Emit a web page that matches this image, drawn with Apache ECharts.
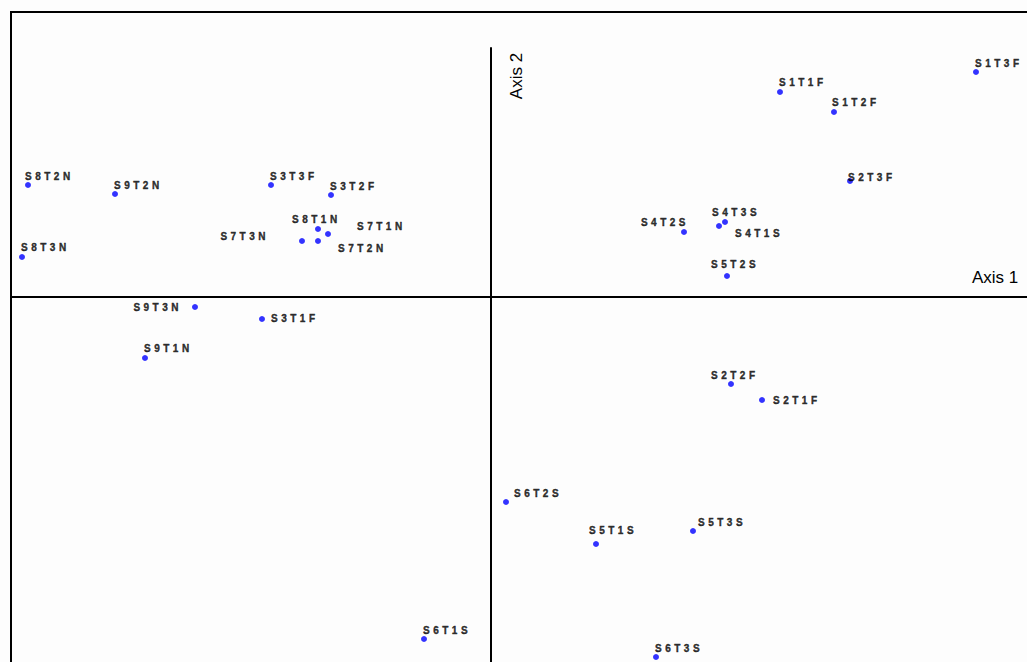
<!DOCTYPE html>
<html>
<head>
<meta charset="utf-8">
<script src="https://cdn.jsdelivr.net/npm/echarts@6/dist/echarts.min.js"></script>
<style>
html,body{margin:0;padding:0;background:#fdfdfd;overflow:hidden}
#chart{width:1027px;height:662px}
#chart svg text[style*="bold"], #chart svg text[font-weight="bold"]{letter-spacing:3.5px}
</style>
</head>
<body>
<div id="chart"></div>
<script>
// Ordination scores
const names = ['S1T1F','S1T2F','S1T3F','S2T3F','S4T2S','S4T3S','S4T1S','S5T2S',
  'S8T2N','S9T2N','S3T3F','S3T2F','S8T1N','S7T1N','S7T3N','S7T2N','S8T3N',
  'S9T3N','S3T1F','S9T1N','S2T2F','S2T1F','S6T2S','S5T1S','S5T3S','S6T1S','S6T3S'];
const axis1 = [2.89, 3.43, 4.85, 3.59, 1.93, 2.34, 2.28, 2.36,
  -4.63, -3.76, -2.20, -1.60, -1.73, -1.63, -1.89, -1.73, -4.69,
  -2.96, -2.29, -3.46, 2.40, 2.71, 0.15, 1.05, 2.02, -0.67, 1.65];
const axis2 = [2.05, 1.85, 2.25, 1.16, 0.65, 0.75, 0.71, 0.21,
  1.12, 1.03, 1.12, 1.02, 0.68, 0.63, 0.56, 0.56, 0.40,
  -0.10, -0.22, -0.61, -0.87, -1.03, -2.05, -2.47, -2.34, -3.42, -3.60];
const axisTitles = ['Axis 1', 'Axis 2'];

// label placement (align, dx, dy from the dot centre) — styling only
const labelPlace = {
  S1T1F:['left',-1,-10], S1T2F:['left',-2,-10], S1T3F:['left',-1,-9], S2T3F:['left',-2,-4],
  S4T2S:['right',5,-10], S4T3S:['left',-13,-10], S4T1S:['left',16,7], S5T2S:['left',-16,-12],
  S8T2N:['left',-3,-9], S9T2N:['left',-1,-9], S3T3F:['left',-1,-9], S3T2F:['left',-1,-9],
  S8T1N:['left',-26,-10], S7T1N:['left',29,-8], S7T3N:['right',-33,-5], S7T2N:['left',20,7],
  S8T3N:['left',-1,-10], S9T3N:['right',-13,0], S3T1F:['left',9,-1], S9T1N:['left',-1,-10],
  S2T2F:['left',-20,-9], S2T1F:['left',11,0], S6T2S:['left',8,-9], S5T1S:['left',-7,-14],
  S5T3S:['left',5,-9], S6T1S:['left',-1,-9], S6T3S:['left',-1,-9]
};
const SYM = 6;

const data = names.map((n, i) => {
  const p = labelPlace[n] || ['left', 0, -9];
  return {
    name: n,
    value: [axis1[i], axis2[i]],
    label: { align: p[0], position: [SYM / 2 + p[1], SYM / 2 + p[2]] }
  };
});

const chart = echarts.init(document.getElementById('chart'), null, {renderer: 'svg'});
chart.setOption({
  backgroundColor: '#fdfdfd',
  animation: false,
  grid: {left: 11, right: 0, top: 48, bottom: 0, containLabel: false},
  xAxis: {
    type: 'value', min: -4.8, max: 5.36,
    axisLine: {show: true, onZero: true, lineStyle: {color: '#000', width: 2}},
    axisTick: {show: false}, axisLabel: {show: false}, splitLine: {show: false}
  },
  yAxis: {
    type: 'value', min: -3.65, max: 2.49,
    axisLine: {show: true, onZero: true, lineStyle: {color: '#000', width: 2}},
    axisTick: {show: false}, axisLabel: {show: false}, splitLine: {show: false}
  },
  graphic: [
    {type: 'rect', silent: true, z: 100,
      shape: {x: 11, y: 12, width: 1100, height: 700},
      style: {fill: 'none', stroke: '#000', lineWidth: 2}},
    {type: 'text', left: 972, top: 269, z: 100,
      style: {text: axisTitles[0], font: '17px "Liberation Sans", Arial, sans-serif', fill: '#000'}},
    {type: 'text', x: 516, y: 76, rotation: Math.PI / 2, z: 100,
      style: {text: axisTitles[1], font: '17px "Liberation Sans", Arial, sans-serif', fill: '#000',
        align: 'center', verticalAlign: 'middle'}}
  ],
  series: [{
    type: 'scatter',
    symbol: 'circle',
    symbolSize: SYM,
    clip: false,
    itemStyle: {color: '#0000ff'},
    label: {
      show: true,
      verticalAlign: 'middle',
      formatter: '{b}',
      color: '#000',
      fontWeight: 'bold',
      fontSize: 10,
      fontFamily: '"Liberation Sans", Arial, sans-serif',
      textBorderColor: '#000',
      textBorderWidth: 0.4
    },
    labelLayout: {hideOverlap: false},
    data: data
  }]
});
</script>
</body>
</html>
